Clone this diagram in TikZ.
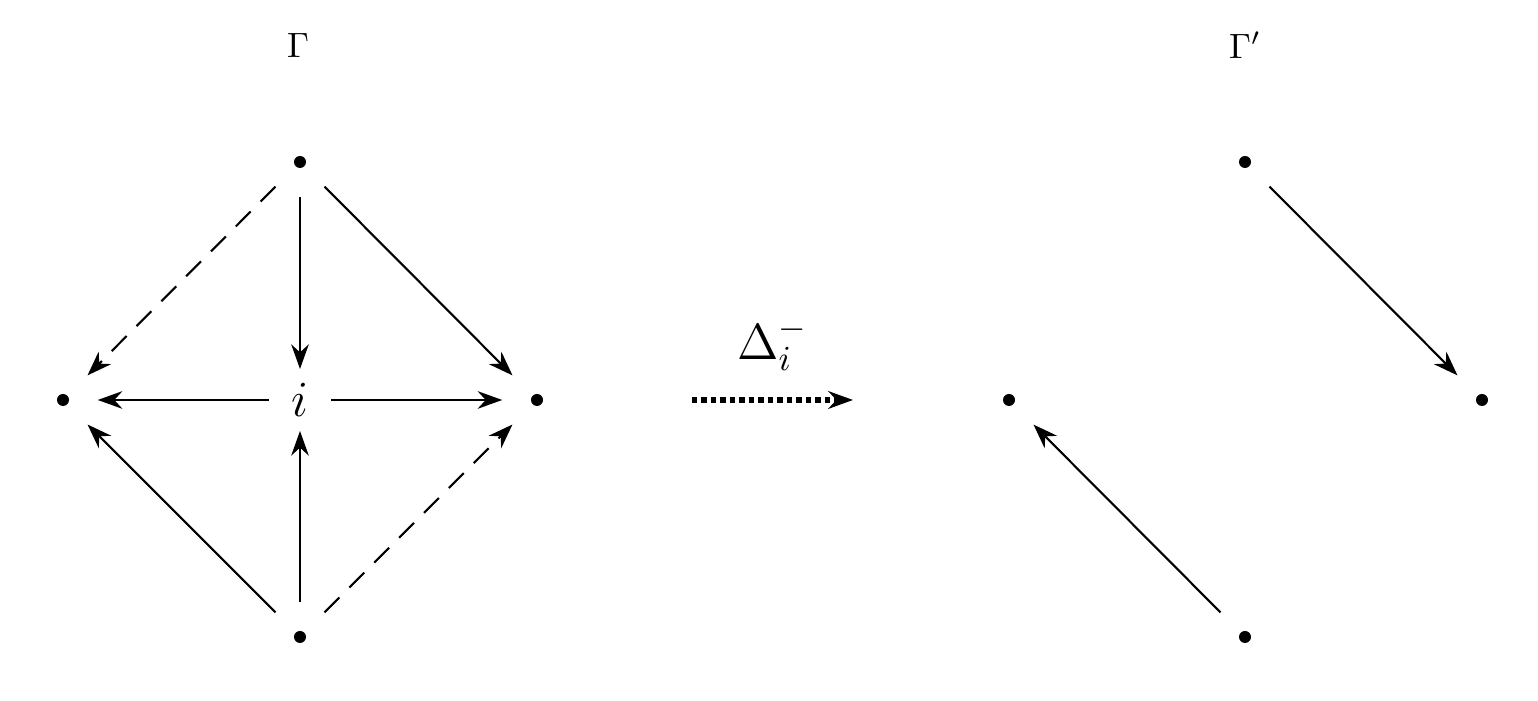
\documentclass[tikz,border=0pt]{standalone}
\usetikzlibrary{arrows.meta}
\begin{document}
\begin{tikzpicture}[x=0.01cm,y=-0.01cm,
  dot/.style={circle,fill=black,inner sep=0pt,minimum size=0.12cm},
  e/.style={line width=0.6pt,-{Stealth[length=7pt,width=5pt]},shorten <=0.28cm,shorten >=0.28cm},
  d/.style={e,dash pattern=on 6pt off 4pt}]
\useasboundingbox (0,0) rectangle (1538,701);
\node (G) at (298,45) {$\Gamma$};
\node (Gp) at (1245,45) {$\Gamma'$};
\node[dot] (t) at (300,162) {};
\node[dot] (l) at (63,400) {};
\node[dot] (r) at (537,400) {};
\node[dot] (b) at (300,637) {};
\node (i) at (300,400) {\Large$i$};
\draw[e,shorten >=0.02cm] (t) -- (i);
\draw[e,shorten >=0.02cm] (b) -- (i);
\draw[e,shorten <=0.1cm] (i) -- (l);
\draw[e,shorten <=0.1cm] (i) -- (r);
\draw[d] (t) -- (l);
\draw[e] (t) -- (r);
\draw[e] (b) -- (l);
\draw[d] (b) -- (r);
\node[dot] (t2) at (1245,162) {};
\node[dot] (l2) at (1009,400) {};
\node[dot] (r2) at (1482,400) {};
\node[dot] (b2) at (1245,637) {};
\draw[e] (t2) -- (r2);
\draw[e] (b2) -- (l2);
\coordinate (a1) at (692,400);
\coordinate (a2) at (853,400);
\draw[line width=1.6pt,dash pattern=on 1.5pt off 1.2pt,-{Stealth[length=7pt,width=5pt]}] (a1) -- (a2) node[midway,above=0.15cm] {\Large$\Delta_i^-$};
\end{tikzpicture}
\end{document}
